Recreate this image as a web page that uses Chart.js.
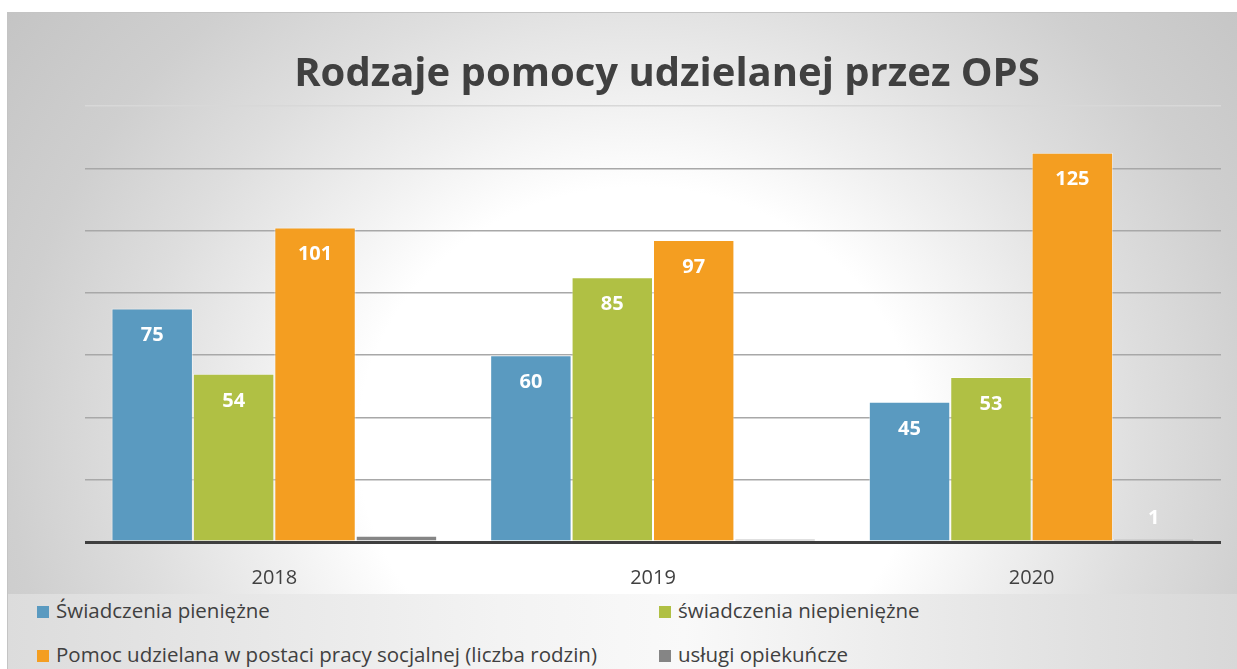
<!DOCTYPE html>
<html>
<head>
<meta charset="utf-8">
<script src="https://cdn.jsdelivr.net/npm/chart.js@4/dist/chart.umd.min.js"></script>
<style>
  html, body { margin: 0; padding: 0; background: #fff; }
  #frame {
    position: absolute; left: 7px; top: 12px; width: 1230px; height: 657px;
    border-top: 1px solid #c4c4c4; border-left: 1px solid #c4c4c4;
    box-sizing: border-box; overflow: hidden;
    background: radial-gradient(700px 640px at 630px 430px, #ffffff 0%, #ffffff 40%, #f0f0f0 54%, #dedede 72%, #cfcfcf 90%, #c3c3c3 115%);
  }
  #wrap { position: absolute; left: 0; top: 0; width: 1229px; height: 595px; }
  #title {
    position: absolute; left: 0; top: 33px; width: 1318px; text-align: center;
    font-family: "Open Sans", sans-serif; font-weight: bold; font-size: 40px;
    line-height: 50px; color: #404040; white-space: nowrap;
  }
  #legend {
    position: absolute; left: 0; top: 581px; width: 1229px; height: 76px;
    background: linear-gradient(90deg, #dcdcdc 0%, #f3f3f3 40%, #f9f9f9 55%, #e6e6e6 80%, #d8d8d8 100%);
    font-family: "Open Sans", sans-serif; font-size: 20.5px; color: #404040;
  }
  .item { position: absolute; white-space: nowrap; line-height: 22px; }
  .box { display: inline-block; width: 12px; height: 12px; margin-right: 7px; vertical-align: 0px; }
</style>
</head>
<body>
<div id="frame">
  <div id="wrap"><canvas id="chart"></canvas></div>
  <div id="title">Rodzaje pomocy udzielanej przez OPS</div>
  <div id="legend"></div>
</div>
<script>
const categories = ["2018", "2019", "2020"];
const seriesNames = [
  "Świadczenia pieniężne",
  "świadczenia niepieniężne",
  "Pomoc udzielana w postaci pracy socjalnej (liczba rodzin)",
  "usługi opiekuńcze"
];
const pieniezne = [75, 60, 45];
const niepieniezne = [54, 85, 53];
const pracaSocjalna = [101, 97, 125];
const opiekuncze = [2, 1, 1];
const yTicks = [0, 20, 40, 60, 80, 100, 120, 140];

const colors = ["#5a9ac0", "#b0c044", "#f49e21", "#858585"];
const seriesValues = [pieniezne, niepieniezne, pracaSocjalna, opiekuncze];

// white value labels, inside the top of each bar (above it when the bar is too short)
const valueLabels = {
  id: "valueLabels",
  afterDatasetsDraw(chart) {
    const ctx = chart.ctx;
    ctx.save();
    ctx.font = "bold 20px 'Open Sans', sans-serif";
    ctx.fillStyle = "#ffffff";
    ctx.textAlign = "center";
    ctx.textBaseline = "middle";
    chart.data.datasets.forEach((ds, i) => {
      chart.getDatasetMeta(i).data.forEach((bar, j) => {
        const h = bar.base - bar.y;
        const y = h > 50 ? bar.y + 27 : bar.y - 21;
        ctx.fillText(String(ds.data[j]), bar.x, y);
      });
    });
    ctx.restore();
  }
};

const canvas = document.getElementById("chart").getContext("2d");

new Chart(canvas, {
  type: "bar",
  data: {
    labels: categories,
    datasets: seriesNames.map((name, i) => ({
      label: name,
      data: seriesValues[i],
      backgroundColor: colors[i],
      borderColor: "rgba(255,255,255,0.45)",
      borderWidth: 1,
      categoryPercentage: 0.86,
      barPercentage: 1.0,
    })),
  },
  options: {
    responsive: true,
    maintainAspectRatio: false,
    animation: false,
    layout: { padding: { left: 77, right: 16, top: 93, bottom: 2 } },
    plugins: {
      legend: { display: false },
      tooltip: { enabled: false },
    },
    scales: {
      x: {
        grid: { display: false },
        border: { display: false },
        ticks: {
          color: "#404040",
          font: { family: "'Open Sans', sans-serif", size: 20 },
          padding: 16,
        },
      },
      y: {
        min: 0,
        max: 140,
        afterBuildTicks: (scale) => { scale.ticks = yTicks.map((v) => ({ value: v })); },
        ticks: { display: false },
        border: { display: false },
        grid: {
          drawTicks: false,
          color: (c) => c.tick.value === 0 ? "#3f3f3f" : (c.tick.value === 140 ? "#d8d8d8" : "#a8a8a8"),
          lineWidth: (c) => c.tick.value === 0 ? 3 : 1.5,
        },
      },
    },
  },
  plugins: [valueLabels],
});

// legend in two columns under the chart
const legendEl = document.getElementById("legend");
const spots = [[29, 16], [651, 16], [29, 60], [651, 60]];
seriesNames.forEach((name, i) => {
  const d = document.createElement("div");
  d.className = "item";
  d.style.left = spots[i][0] + "px";
  d.style.top = (spots[i][1] - 11) + "px";
  d.innerHTML = '<span class="box" style="background:' + colors[i] + '"></span>' + name;
  legendEl.appendChild(d);
});
</script>
</body>
</html>
